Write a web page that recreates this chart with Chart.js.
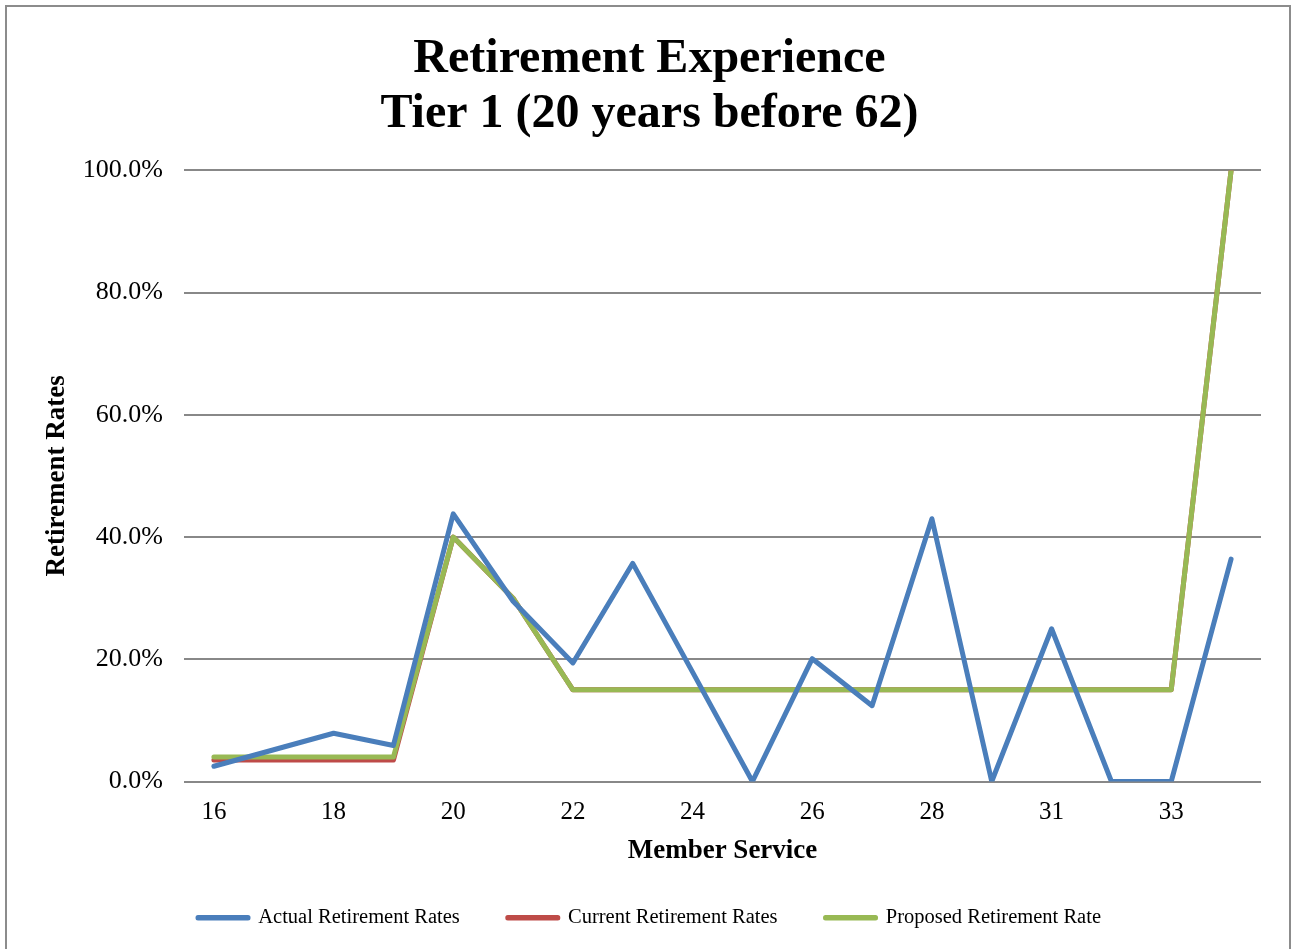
<!DOCTYPE html>
<html>
<head>
<meta charset="utf-8">
<script src="https://cdn.jsdelivr.net/npm/chart.js@4/dist/chart.umd.min.js"></script>
<style>
  html, body { margin: 0; padding: 0; background: #fff; overflow: hidden; width: 1291px; height: 949px; }
  #wrap { position: absolute; left: 0; top: 0; width: 1291px; height: 938px; }
  #frame { position: absolute; left: 5px; top: 5px; width: 1282px; height: 960px; border: 2px solid #8c8c8c; pointer-events: none; }
</style>
</head>
<body>
<div id="wrap"><canvas id="c" width="1291" height="938"></canvas></div>
<div id="frame"></div>
<script>
const categories = ['16','17','18','19','20','21','22','23','24','25','26','27','28','30','31','32','33','34'];
const actualRates   = [2.5, 5.2, 7.9, 5.9, 43.8, 29.5, 19.4, 35.7, 17.9, 0, 20.1, 12.4, 43.0, 0, 25.0, 0, 0, 36.4];
const currentRates  = [3.5, 3.5, 3.5, 3.5, 40, 30, 15, 15, 15, 15, 15, 15, 15, 15, 15, 15, 15, 100];
const proposedRates = [4, 4, 4, 4, 40, 30, 15, 15, 15, 15, 15, 15, 15, 15, 15, 15, 15, 100];
const yTicks = [0, 20, 40, 60, 80, 100];

const serif = "'Liberation Serif', 'Times New Roman', serif";

function ds(label, data, color, order) {
  return {
    label, data, order,
    borderColor: color, backgroundColor: color,
    borderWidth: 5, pointRadius: 0, pointHoverRadius: 0,
    tension: 0, borderJoinStyle: 'round', borderCapStyle: 'round'
  };
}

new Chart(document.getElementById('c'), {
  type: 'line',
  data: {
    labels: categories,
    datasets: [
      ds('Actual Retirement Rates', actualRates, '#4A7EBB', 0),
      ds('Current Retirement Rates', currentRates, '#BE4B48', 2),
      ds('Proposed Retirement Rate', proposedRates, '#98B954', 1)
    ]
  },
  options: {
    responsive: false,
    animation: false,
    devicePixelRatio: 1,
    layout: { padding: { left: 8, right: 0, top: 0, bottom: 0 } },
    plugins: {
      tooltip: { enabled: false },
      title: {
        display: true,
        text: ['Retirement Experience', 'Tier 1 (20 years before 62)'],
        color: '#000',
        font: { family: serif, size: 48, weight: 'bold', lineHeight: 1.15 },
        padding: { top: 32, bottom: 28 }
      },
      legend: {
        position: 'bottom',
        labels: {
          color: '#000',
          font: { family: serif, size: 20.5 },
          boxWidth: 50,
          boxHeight: 0.5,
          padding: 48,
          sort: function(a, b) { return a.datasetIndex - b.datasetIndex; }
        }
      }
    },
    scales: {
      x: {
        offset: true,
        grid: { display: false, drawTicks: false },
        border: { display: false },
        ticks: {
          autoSkip: false, maxRotation: 0, minRotation: 0,
          padding: 16, color: '#000',
          font: { family: serif, size: 25 },
          callback: function(v, i) { return i % 2 === 0 ? categories[i] : ''; }
        },
        title: {
          display: true, text: 'Member Service', color: '#000',
          font: { family: serif, size: 27, weight: 'bold', lineHeight: 1.2 },
          padding: { top: 0, bottom: -8 }
        },
        afterFit: function(s) { s.height = 78; }
      },
      y: {
        min: 0, max: 100,
        afterBuildTicks: function(s) { s.ticks = yTicks.map(v => ({ value: v })); },
        grid: { color: '#888888', lineWidth: 2, drawTicks: false },
        border: { display: false },
        ticks: {
          padding: 21, color: '#000',
          font: { family: serif, size: 26 },
          callback: function(v) { return v.toFixed(1) + '%'; }
        },
        title: {
          display: true, text: 'Retirement Rates', color: '#000',
          font: { family: serif, size: 27, weight: 'bold', lineHeight: 1.2 },
          padding: { top: 33 }
        },
        afterFit: function(s) { s.width = 176; }
      },
      y2: {
        position: 'right',
        display: true,
        grid: { display: false, drawTicks: false },
        border: { display: false },
        ticks: { display: false },
        afterFit: function(s) { s.width = 30; }
      }
    }
  }
});
</script>
</body>
</html>
